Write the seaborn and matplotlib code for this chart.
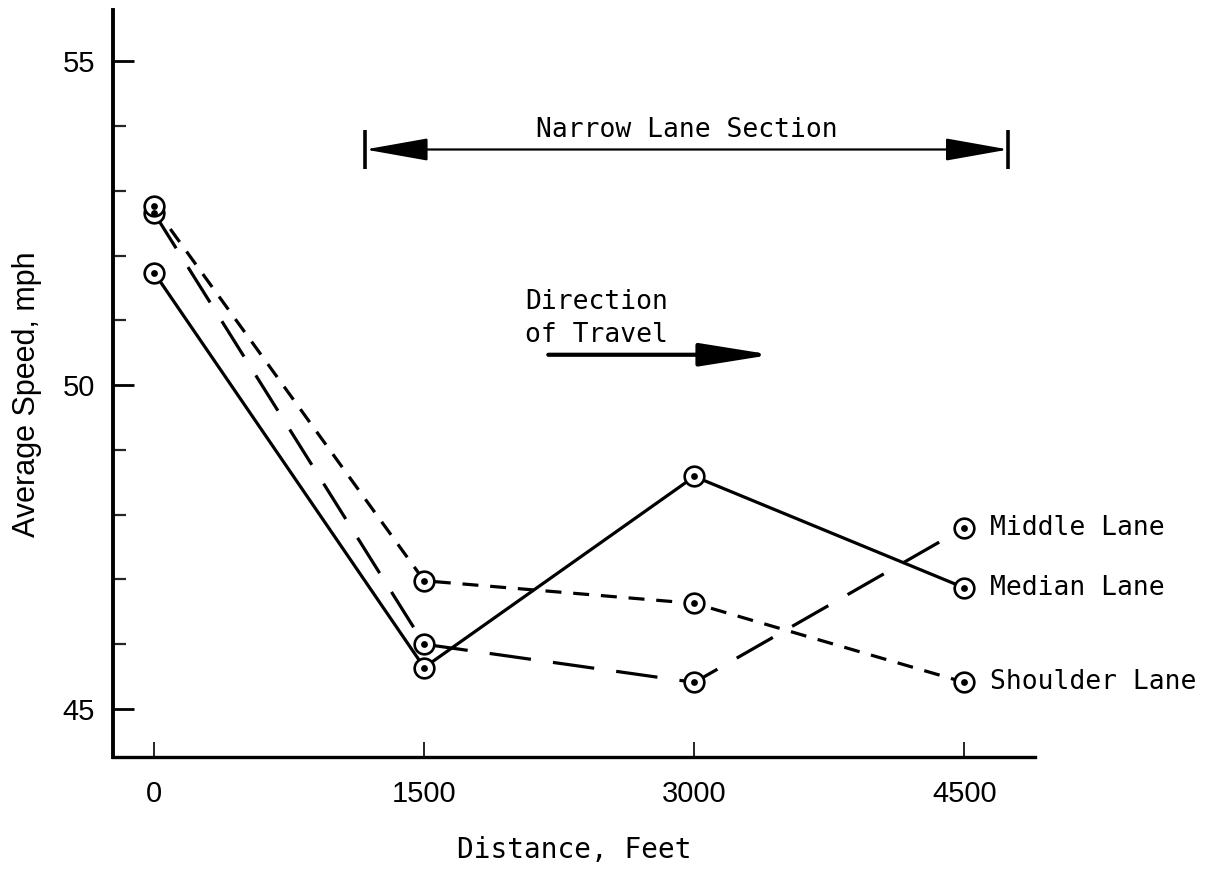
import matplotlib
matplotlib.use("Agg")
import matplotlib.pyplot as plt
import seaborn as sns
import pandas as pd
from matplotlib.ticker import MultipleLocator

# ---- data ----
distance = [0, 1500, 3000, 4500]
median_lane = [51.74, 45.64, 48.59, 46.87]
middle_lane = [52.66, 46.00, 45.41, 47.80]
shoulder_lane = [52.76, 46.98, 46.63, 45.41]
lane_names = ["Middle Lane", "Median Lane", "Shoulder Lane"]
x_ticks = [0, 1500, 3000, 4500]
y_ticks = [45, 50, 55]

df = pd.DataFrame({
    "Distance": distance * 3,
    "Speed": middle_lane + median_lane + shoulder_lane,
    "Lane": [lane_names[0]] * 4 + [lane_names[1]] * 4 + [lane_names[2]] * 4,
})

sns.set_theme(style="white")
plt.rcParams["font.family"] = ["Liberation Sans", "DejaVu Sans"]
plt.rcParams["text.color"] = "black"
plt.rcParams["axes.labelcolor"] = "black"
mono = "DejaVu Sans Mono"

fig = plt.figure(figsize=(12.2, 8.76), dpi=100)
ax = fig.add_axes([0.0926, 0.136, 0.848 - 0.0926, 0.989 - 0.136])

lw = 2.3
dashes = {
    "Median Lane": "",
    "Middle Lane": (30 / lw, 16 / lw),
    "Shoulder Lane": (11.5 / lw, 8.5 / lw),
}
sns.lineplot(data=df, x="Distance", y="Speed", style="Lane", dashes=dashes,
             color="black", linewidth=lw, legend=False, ax=ax, zorder=2)
sns.scatterplot(data=df, x="Distance", y="Speed", s=200, marker="o",
                facecolor="white", edgecolor="black", linewidth=1.9,
                legend=False, ax=ax, zorder=3, clip_on=False)
sns.scatterplot(data=df, x="Distance", y="Speed", s=24, marker="o",
                color="black", linewidth=0, legend=False, ax=ax, zorder=4,
                clip_on=False)

ax.set_xlim(-228, 4889)
ax.set_ylim(44.26, 55.8)

for side in ["top", "right"]:
    ax.spines[side].set_visible(False)
ax.spines["left"].set_linewidth(2.8)
ax.spines["bottom"].set_linewidth(2.4)
ax.spines["left"].set_color("black")
ax.spines["bottom"].set_color("black")

ax.set_xticks(x_ticks)
ax.set_yticks(y_ticks)
ax.yaxis.set_minor_locator(MultipleLocator(1))
ax.tick_params(axis="y", which="major", direction="in", length=15, width=2.0,
               labelsize=21, pad=13, colors="black", left=True)
ax.tick_params(axis="y", which="minor", direction="in", length=9, width=1.6,
               left=True)
ax.tick_params(axis="x", which="major", direction="in", length=11, width=1.2,
               labelsize=21, pad=17, colors="black", bottom=True)

ax.set_xlabel("Distance, Feet", fontsize=20, family=mono, labelpad=20)
ax.set_ylabel("Average Speed, mph", fontsize=22)
ax.yaxis.set_label_coords(-0.077, 0.485)

# end-of-line labels
end_vals = [middle_lane[-1], median_lane[-1], shoulder_lane[-1]]
for name, val in zip(lane_names, end_vals):
    ax.text(4640, val, name, fontsize=19, family=mono, va="center",
            ha="left", clip_on=False)

# Narrow lane section annotation
nl_x0, nl_x1, nl_y = 1172, 4744, 53.64
ax.annotate("", xy=(nl_x0, nl_y), xytext=(nl_x1, nl_y),
            arrowprops=dict(arrowstyle="<|-|>,head_length=1.8,head_width=0.32",
                            color="black", lw=1.6, shrinkA=0, shrinkB=0,
                            mutation_scale=22))
for xb in (nl_x0, nl_x1):
    ax.plot([xb, xb], [nl_y - 0.3, nl_y + 0.3], color="black", lw=2.6,
            solid_capstyle="butt")
ax.text((nl_x0 + nl_x1) / 2, nl_y + 0.1, "Narrow Lane Section", fontsize=19,
        family=mono, ha="center", va="bottom")

# Direction of travel annotation
ax.text(2061, 51.03, "Direction\nof Travel", fontsize=19, family=mono,
        ha="left", va="center", linespacing=1.35)
ax.annotate("", xy=(3430, 50.47), xytext=(2189, 50.47),
            arrowprops=dict(arrowstyle="-|>,head_length=2.0,head_width=0.32",
                            color="black", lw=3.0, shrinkA=0, shrinkB=0,
                            mutation_scale=22))

fig.savefig("out.png", dpi=100, facecolor="white")
